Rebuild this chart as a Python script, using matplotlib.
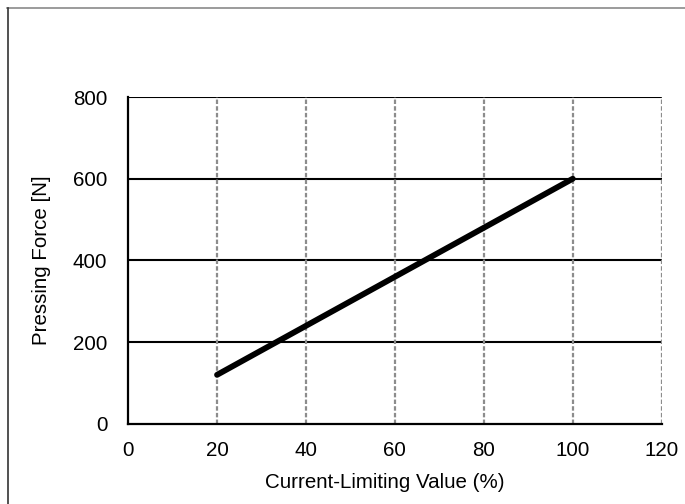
import matplotlib
matplotlib.use("Agg")
import matplotlib.pyplot as plt
from matplotlib.lines import Line2D

plt.rcParams["font.family"] = ["Liberation Sans", "DejaVu Sans"]

current_pct = [20, 100]
force_n = [120, 600]
x_ticks = [0, 20, 40, 60, 80, 100, 120]
y_ticks = [0, 200, 400, 600, 800]

fig = plt.figure(figsize=(6.85, 5.04), dpi=100)
ax = fig.add_axes([0.187, 0.159, 0.779, 0.6485])

ax.plot(current_pct, force_n, color="black", lw=4.2, solid_capstyle="round", zorder=3)

ax.set_xlim(0, 120)
ax.set_ylim(0, 800)
ax.set_xticks(x_ticks)
ax.set_yticks(y_ticks)
ax.tick_params(length=0, labelsize=14.8)
ax.tick_params(axis="x", pad=12)
ax.tick_params(axis="y", pad=15)

for y in y_ticks[1:]:
    ax.axhline(y, color="black", lw=1.5, zorder=1)
for x in x_ticks[1:]:
    ax.axvline(x, color="#8c8c8c", lw=1.6, ls=(0, (2, 1)), zorder=1)

for s in ["top", "right"]:
    ax.spines[s].set_visible(False)
for s in ["left", "bottom"]:
    ax.spines[s].set_linewidth(1.6)
    ax.spines[s].set_color("black")

ax.set_xlabel("Current-Limiting Value (%)", fontsize=14.8)
ax.xaxis.set_label_coords(0.481, -0.15)
ax.set_ylabel("Pressing Force [N]", fontsize=14.8, labelpad=16)

# outer frame
fig.add_artist(Line2D([7/685, 1], [1 - 7.5/504] * 2, transform=fig.transFigure, color="#8a8a8a", lw=1.2))
fig.add_artist(Line2D([7.5/685] * 2, [0, 1 - 7.5/504], transform=fig.transFigure, color="#333333", lw=1.2))

fig.savefig("out.png", dpi=100)
